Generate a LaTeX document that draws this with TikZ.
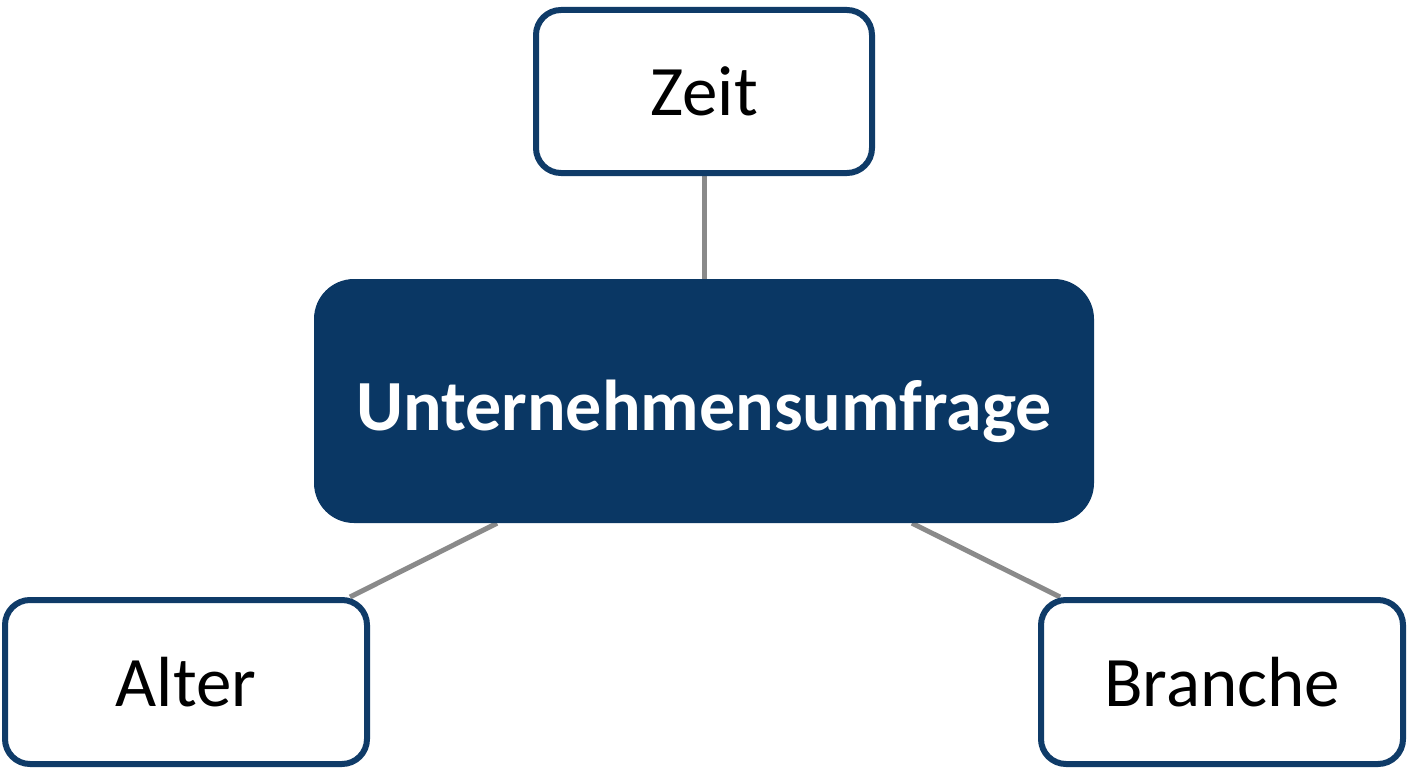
\documentclass[tikz,border=0pt]{standalone}
\usepackage{fontspec}
\setmainfont{Carlito}
\usetikzlibrary{backgrounds}
\definecolor{navy}{HTML}{0A3764}
\definecolor{navyline}{HTML}{0F3B68}
\definecolor{linkgray}{HTML}{8A8A8A}
\begin{document}
\begin{tikzpicture}[x=1pt,y=-1pt]
\tikzstyle{every node}+=[inner sep=0pt]
\tikzstyle{leaf}=[draw=navyline, line width=6pt, fill=white, rounded corners=25pt,
  minimum width=362pt, minimum height=164pt, font=\fontsize{71}{84}\selectfont]
\tikzstyle{root}=[fill=navy, text=white, rounded corners=40pt,
  minimum width=780pt, minimum height=244pt, text height=58pt, text depth=0pt,
  font=\fontsize{72}{86}\selectfont\bfseries]
\tikzstyle{link}=[draw=linkgray, line width=5pt]
\useasboundingbox (0,0) rectangle (1408,768);
\node[root] (umfrage) at (704,401) {Unternehmensumfrage};
\node[leaf, minimum width=336pt, minimum height=163pt] (zeit) at (704,91.5) {Zeit};
\node[leaf] (alter) at (186,682) {Alter};
\node[leaf] (branche) at (1222,682) {Branche};
\begin{scope}[on background layer]
\fill[white] (0,0) rectangle (1408,768);
\draw[link] (zeit.south) -- (umfrage.north);
\draw[link] ([xshift=164pt]alter.north) -- ([xshift=-207pt]umfrage.south);
\draw[link] ([xshift=-162pt]branche.north) -- ([xshift=208pt]umfrage.south);
\end{scope}
\end{tikzpicture}
\end{document}
